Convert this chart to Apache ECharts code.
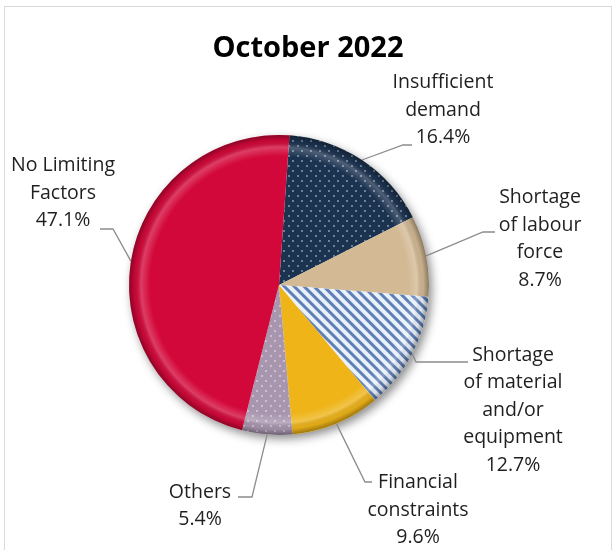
<!DOCTYPE html>
<html>
<head>
<meta charset="utf-8">
<script src="https://cdn.jsdelivr.net/npm/echarts@6/dist/echarts.min.js"></script>
<style>
  body { margin: 0; background: #fff; }
  #pie { width: 616px; height: 550px; }
  #frame { position: absolute; left: 4px; top: 6px; width: 606px; height: 560px; border: 1px solid #d9d9d9; pointer-events: none; }
</style>
</head>
<body>
<div id="pie"></div>
<div id="frame"></div>
<script>
var categories = ['Insufficient\ndemand', 'Shortage\nof labour\nforce', 'Shortage\nof material\nand/or\nequipment',
	'Financial\nconstraints', 'Others', 'No Limiting\nFactors'];
var shares = [16.4, 8.7, 12.7, 9.6, 5.4, 47.1];

var myChart = echarts.init(document.getElementById('pie'));

var cx = 279, cy = 285, R = 150;

// where each label sits, and the elbow/end of its leader line
var labelSpots = [
	{ x: 443, y: 110, mid: [403, 145], end: [412, 145] },
	{ x: 540, y: 239, mid: [483, 232], end: [495, 232] },
	{ x: 513, y: 410, mid: [416, 362], end: [468, 362] },
	{ x: 418, y: 510, mid: [365, 482], end: [372, 482] },
	{ x: 200, y: 506, mid: [252, 497], end: [238, 497] },
	{ x: 63, y: 193, mid: [113, 229], end: [100, 229] }
];

var dots = function (col) {
	return {
		symbol: 'circle',
		symbolSize: 0.9,
		color: col,
		dashArrayX: [[1.6, 6.4], [0, 4, 1.6, 2.4]],
		dashArrayY: [1.6, 2.8]
	};
};

var looks = [
	{ color: '#1c3350', decal: dots('rgba(190,205,230,0.75)') },
	{ color: '#d3b994' },
	{ color: '#e9f1fb', decal: { symbol: 'rect', symbolSize: 1, color: '#5f7fb5', dashArrayX: [1, 0], dashArrayY: [3, 3.5], rotation: Math.PI / 4 } },
	{ color: '#eeb418' },
	{ color: '#a895ae', decal: dots('rgba(235,225,240,0.8)') },
	{ color: '#d3083a' }
];

var pieData = categories.map(function (name, i) {
	return { name: name, value: shares[i], itemStyle: looks[i] };
});

option = {
	title: {
		text: 'October 2022',
		left: 'center',
		top: 29,
		textStyle: { fontFamily: 'Open Sans', fontSize: 29, fontWeight: 'bold', color: '#000' }
	},
	animation: false,
	series: [
		{
			// soft drop shadow under the disc
			type: 'pie',
			center: [cx, cy],
			radius: [0, R],
			silent: true,
			z: 1,
			label: { show: false },
			labelLine: { show: false },
			itemStyle: {
				color: '#ffffff',
				shadowBlur: 10,
				shadowColor: 'rgba(0,0,0,0.45)',
				shadowOffsetX: 3,
				shadowOffsetY: 4
			},
			data: [1]
		},
		{
			type: 'pie',
			center: [cx, cy],
			radius: [0, R],
			startAngle: 86,
			z: 2,
			avoidLabelOverlap: false,
			label: {
				show: true,
				position: 'outside',
				formatter: '{b}\n{c}%',
				fontFamily: 'Open Sans',
				fontSize: 19.5,
				lineHeight: 27.5,
				color: '#1f1f1f',
				align: 'center'
			},
			labelLine: {
				show: true,
				lineStyle: { color: '#8c8c8c', width: 1.3 }
			},
			labelLayout: function (params) {
				var s = labelSpots[params.dataIndex];
				var p0 = params.labelLinePoints ? params.labelLinePoints[0].slice() : s.mid;
				return {
					x: s.x,
					y: s.y,
					align: 'center',
					verticalAlign: 'middle',
					labelLinePoints: [p0, s.mid, s.end]
				};
			},
			data: pieData
		},
		{
			// bevel shading on top
			type: 'pie',
			center: [cx, cy],
			radius: [0, R],
			silent: true,
			z: 3,
			label: { show: false },
			labelLine: { show: false },
			itemStyle: {
				color: {
					type: 'radial', x: 0.5, y: 0.5, r: 0.5,
					colorStops: [
						{ offset: 0, color: 'rgba(255,255,255,0)' },
						{ offset: 0.86, color: 'rgba(255,255,255,0)' },
						{ offset: 0.92, color: 'rgba(255,255,255,0.22)' },
						{ offset: 0.96, color: 'rgba(0,0,0,0.05)' },
						{ offset: 1, color: 'rgba(0,0,0,0.35)' }
					]
				}
			},
			data: [1]
		}
	]
};

myChart.setOption(option);
window.onresize = () => this.myChart.resize();
</script>
</body>
</html>
